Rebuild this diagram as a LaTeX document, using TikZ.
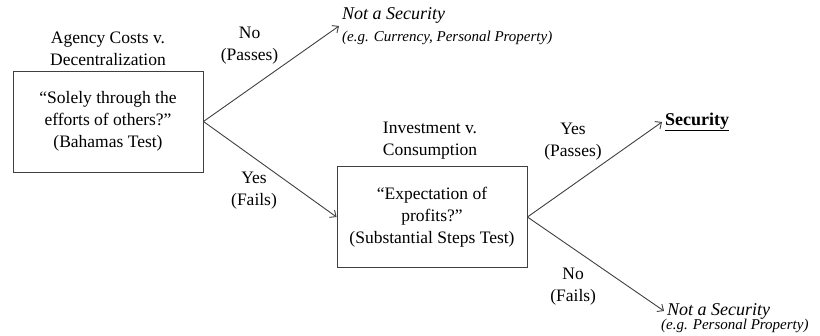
\documentclass[tikz,border=0pt]{standalone}
\usepackage{fontspec}
\setmainfont{Liberation Serif}
\usetikzlibrary{positioning,arrows.meta}
\begin{document}
\begin{tikzpicture}[x=1pt, y=-1pt, >={Straight Barb[length=5pt,width=9pt]},
  test/.style={draw=black!75, line width=0.9pt, minimum width=190pt, minimum height=101pt, align=center, font=\fontsize{17.5}{22}\selectfont},
  head/.style={align=center, font=\fontsize{17.5}{22}\selectfont},
  answer/.style={align=center, inner sep=2pt, font=\fontsize{17.5}{22}\selectfont},
  result/.style={anchor=west, align=left, inner sep=3pt, font=\fontsize{18}{22}\selectfont\itshape},
  example/.style={anchor=west, inner sep=2pt, font=\fontsize{15}{18}\selectfont\itshape},
  branch/.style={->, draw=black!75, line width=0.9pt}]
  \useasboundingbox (0,0) rectangle (820,335);
  % first test
  \node[head] (agency) at (108,49) {Agency Costs v.\\Decentralization};
  \node[test] (bahamas) at (108,121.5) {“Solely through the\\efforts of others?”\\(Bahamas Test)};
  \node[result] (nsec1) at (339,26) {Not a Security\\{\fontsize{15}{22}\selectfont (e.g. Currency, Personal Property)}};
  % second test
  \node[head] (invest) at (430,141) {Investment v.\\Consumption};
  \node[test] (steps) at (432,217) {“Expectation of\\profits?”\\(Substantial Steps Test)};
  \node[result, font=\fontsize{18}{22}\selectfont\bfseries] (sec) at (662,122) {\underline{Security}};
  \node[result] (nsec2) at (664,311) {Not a Security};
  \node[example] (eg2) at (659,326) {(e.g. Personal Property)};
  % branches
  \draw[branch] (bahamas.east) -- node[answer, pos=.57, above left] (lno1) {No\\(Passes)} (nsec1.west);
  \draw[branch] (bahamas.east) -- node[answer, pos=.57, below left, yshift=6pt] (lyes1) {Yes\\(Fails)} (steps.west);
  \draw[branch] (steps.east) -- node[answer, pos=.57, above left] (lyes2) {Yes\\(Passes)} (sec.west);
  \draw[branch] (steps.east) -- node[answer, pos=.52, below left] (lno2) {No\\(Fails)} (nsec2.west);
\end{tikzpicture}
\end{document}
